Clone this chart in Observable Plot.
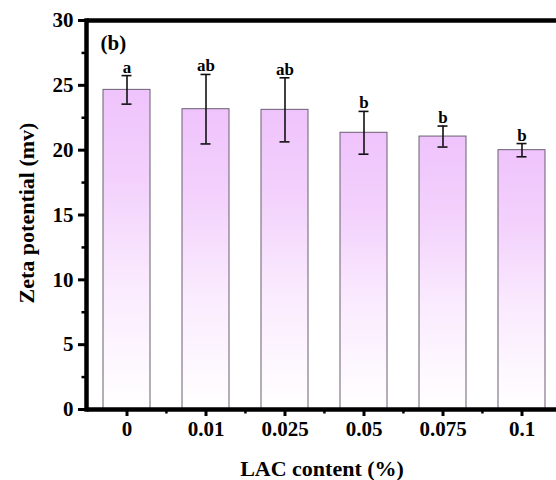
<!DOCTYPE html>
<html>
<head>
<meta charset="utf-8">
<script src="https://cdn.jsdelivr.net/npm/d3@7"></script>
<script src="https://cdn.jsdelivr.net/npm/@observablehq/plot@0.6"></script>
<style>
  html, body { margin: 0; padding: 0; background: #fff; overflow: hidden; }
  #chart svg { font-family: "Liberation Serif", "Times New Roman", serif; }
  #chart svg g[aria-label$="tick label"] { font-size: 21px !important; font-weight: bold; }
</style>
</head>
<body>
<div id="chart"></div>
<script>
// ---- data ----
const categories = ["0", "0.01", "0.025", "0.05", "0.075", "0.1"];
const means = [24.65, 23.16, 23.11, 21.34, 21.05, 20.0];
const errors = [1.1, 2.68, 2.47, 1.65, 0.81, 0.51];
const letters = ["a", "ab", "ab", "b", "b", "b"];
const yTicks = [0, 5, 10, 15, 20, 25, 30];
const yMinorTicks = [2.5, 7.5, 12.5, 17.5, 22.5, 27.5];
const panelLabel = "(b)";
const xTitle = "LAC content (%)";
const yTitle = "Zeta potential (mv)";

const rows = categories.map((c, i) => ({
  cat: c, mean: means[i], err: errors[i], letter: letters[i],
  lo: means[i] - errors[i], hi: means[i] + errors[i]
}));

const W = 556, H = 480;
const mL = 87, mT = 20, mB = 71, mR = 0;
const xRange = [87, 562];
const step = (xRange[1] - xRange[0]) / categories.length;

const gradientDefs = () => {
  const ns = "http://www.w3.org/2000/svg";
  const defs = document.createElementNS(ns, "defs");
  const lg = document.createElementNS(ns, "linearGradient");
  lg.setAttribute("id", "barGrad");
  lg.setAttribute("x1", "0"); lg.setAttribute("y1", "0");
  lg.setAttribute("x2", "0"); lg.setAttribute("y2", "1");
  [["0%", "#efc3fc"], ["30%", "#f3d2fc"], ["60%", "#faeafe"], ["100%", "#ffffff"]].forEach(([o, c]) => {
    const s = document.createElementNS(ns, "stop");
    s.setAttribute("offset", o); s.setAttribute("stop-color", c);
    lg.appendChild(s);
  });
  defs.appendChild(lg);
  return defs;
};

const chart = Plot.plot({
  width: W, height: H,
  marginLeft: mL, marginTop: mT, marginBottom: mB, marginRight: mR,
  style: { fontFamily: "Liberation Serif, Times New Roman, serif", background: "white", overflow: "hidden" },
  x: { domain: categories, range: xRange, paddingInner: 0.4, paddingOuter: 0.2, axis: null },
  y: { domain: [0, 30], axis: null },
  marks: [
    gradientDefs,
    Plot.barY(rows, { x: "cat", y: "mean", fill: "url(#barGrad)", stroke: "#6a5f70", strokeWidth: 1 }),
    Plot.ruleX(rows, { x: "cat", y1: "lo", y2: "hi", stroke: "#111", strokeWidth: 1.6 }),
    Plot.tickY(rows, { x: "cat", y: "lo", stroke: "#111", strokeWidth: 1.6, insetLeft: 18.5, insetRight: 18.5 }),
    Plot.tickY(rows, { x: "cat", y: "hi", stroke: "#111", strokeWidth: 1.6, insetLeft: 18.5, insetRight: 18.5 }),
    Plot.text(rows, { x: "cat", y: "hi", text: "letter", dy: -3, lineAnchor: "bottom", fontSize: 17, fontWeight: "bold", fill: "#000" }),
    // y axis
    Plot.axisY({ ticks: yTicks, tickSize: 9, tickPadding: 5, strokeWidth: 3, fontSize: 21, fontWeight: "bold", fill: "#000", label: null }),
    Plot.axisY({ ticks: yMinorTicks, tickSize: 5.5, strokeWidth: 2.5, tickFormat: () => "", label: null }),
    // x axis
    Plot.axisX({ tickSize: 7, tickPadding: 5, strokeWidth: 3, fontSize: 21, fontWeight: "bold", fill: "#000", label: null }),
    Plot.axisX({ ticks: categories.slice(1), tickSize: 4.5, strokeWidth: 2.5, dx: -step / 2, tickFormat: () => "", label: null }),
    // frame lines
    Plot.ruleY([0], { stroke: "#000", strokeWidth: 4.5 }),
    Plot.ruleY([30], { stroke: "#000", strokeWidth: 4.5 }),
    Plot.frame({ anchor: "left", stroke: "#000", strokeWidth: 4.5, dx: -1 }),
    // titles
    Plot.text([panelLabel], { frameAnchor: "top-left", dx: 13, dy: 15, lineAnchor: "top", textAnchor: "start", fontSize: 21, fontWeight: "bold", fill: "#000" }),
    Plot.text([xTitle], { frameAnchor: "bottom", dy: 59, lineAnchor: "middle", textAnchor: "middle", fontSize: 22, fontWeight: "bold", fill: "#000" }),
    Plot.text([yTitle], { frameAnchor: "left", dx: -61, dy: -2, rotate: -90, lineAnchor: "middle", textAnchor: "middle", fontSize: 22, fontWeight: "bold", fill: "#000" })
  ]
});
document.getElementById("chart").appendChild(chart);
</script>
</body>
</html>
